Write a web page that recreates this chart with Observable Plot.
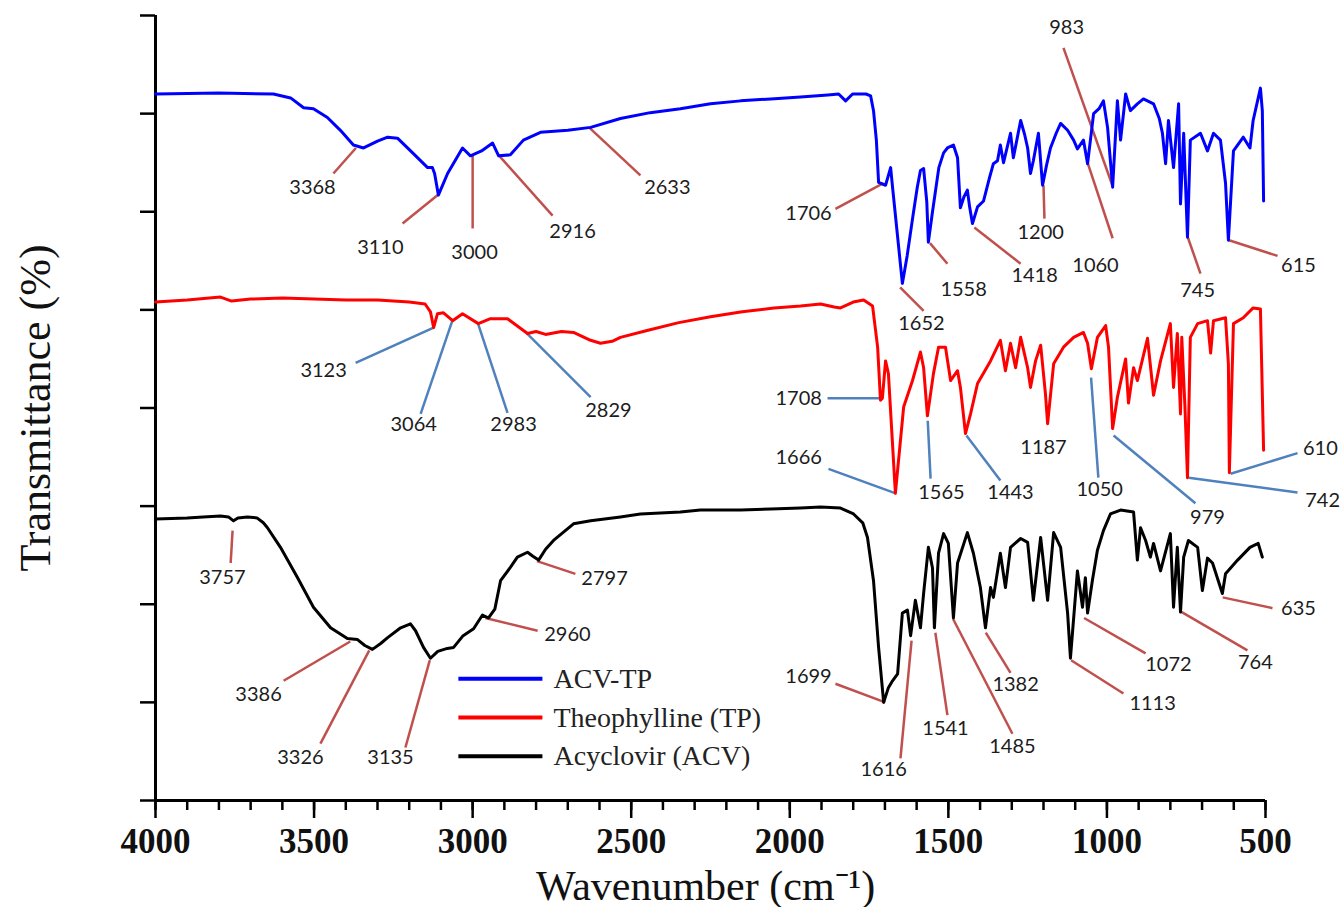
<!DOCTYPE html>
<html>
<head>
<meta charset="utf-8">
<script src="https://cdn.jsdelivr.net/npm/d3@7"></script>
<script src="https://cdn.jsdelivr.net/npm/@observablehq/plot@0.6"></script>
<style>
  html, body { margin: 0; padding: 0; background: #fff; }
  #chart svg { display: block; }
</style>
</head>
<body>
<div id="chart"></div>
<script>
// ---- Spectra: [wavenumber (cm-1), transmittance (arbitrary %, stacked)] ----
const acvtpSpectrum = [
  [4000,72.0],[3800,72.1],[3628,72.0],[3574,71.6],[3533,70.6],[3502,70.5],[3458,69.6],[3417,68.3],
  [3376,66.8],[3344,66.5],[3300,67.2],[3268,67.6],[3237,67.5],[3186,65.9],[3142,64.5],[3127,64.5],
  [3120,63.9],[3108,61.7],[3079,63.9],[3032,66.5],[3007,65.7],[2972,66.2],[2937,67.0],[2918,65.7],
  [2881,65.8],[2840,67.3],[2786,68.1],[2700,68.3],[2628,68.6],[2534,69.5],[2440,70.1],[2345,70.5],
  [2250,71.0],[2155,71.3],[2060,71.5],[1966,71.7],[1880,71.9],[1846,72.0],[1824,71.3],[1802,72.0],
  [1760,72.0],[1745,71.8],[1736,70.3],[1727,67.3],[1720,63.0],[1698,62.7],[1682,64.5],[1676,62.5],
  [1645,52.7],[1630,55.5],[1612,59.5],[1598,62.5],[1588,64.2],[1578,64.4],[1568,61.0],[1563,56.9],
  [1550,60.0],[1530,64.5],[1515,66.0],[1503,66.5],[1484,66.8],[1471,65.5],[1462,60.4],[1451,61.5],
  [1440,62.2],[1433,60.5],[1424,58.8],[1408,60.5],[1389,61.1],[1370,63.5],[1358,64.9],[1345,65.2],
  [1336,66.8],[1326,65.0],[1304,68.0],[1295,65.5],[1272,69.3],[1259,67.8],[1250,66.5],[1241,63.9],
  [1232,65.2],[1216,68.0],[1203,62.7],[1190,64.8],[1178,66.5],[1160,68.0],[1146,69.0],[1124,68.3],
  [1105,67.3],[1093,66.4],[1074,67.3],[1061,64.9],[1042,70.0],[1025,70.5],[1011,71.3],[998,68.6],
  [982,62.5],[967,71.3],[957,67.3],[941,72.0],[926,70.3],[904,71.0],[885,71.5],[853,71.0],
  [835,69.5],[825,68.0],[815,64.9],[806,69.3],[790,64.5],[774,71.0],[768,60.8],[758,68.0],
  [746,57.4],[737,67.3],[705,68.0],[683,66.2],[664,68.0],[642,67.3],[626,62.9],[617,57.1],
  [601,66.2],[570,67.6],[549,66.5],[539,69.3],[516,72.6],[510,70.3],[506,61.1]
];

const tpSpectrum = [
  [4000,50.8],[3900,51.0],[3795,51.3],[3760,50.9],[3700,51.1],[3600,51.2],[3500,51.1],[3400,51.0],
  [3300,51.0],[3200,50.8],[3150,50.6],[3133,49.8],[3123,48.2],[3111,49.6],[3092,49.7],[3063,48.9],
  [3032,49.6],[2982,48.6],[2944,49.1],[2890,49.1],[2827,47.6],[2800,47.8],[2770,47.5],[2720,47.8],
  [2682,47.7],[2628,46.9],[2597,46.6],[2560,46.8],[2534,47.2],[2450,47.9],[2350,48.7],[2250,49.3],
  [2150,49.8],[2050,50.2],[1966,50.4],[1903,50.6],[1860,50.3],[1840,50.2],[1800,50.8],[1767,51.0],
  [1739,50.4],[1723,46.2],[1714,40.8],[1708,41.0],[1698,44.8],[1689,43.5],[1667,31.3],[1641,40.1],
  [1613,42.8],[1588,45.7],[1578,44.1],[1566,39.2],[1547,43.5],[1531,46.2],[1509,46.2],[1493,42.8],
  [1471,43.8],[1462,42.1],[1446,37.4],[1430,39.4],[1408,42.5],[1367,44.8],[1336,46.9],[1320,43.8],
  [1304,46.6],[1288,44.1],[1272,47.2],[1250,44.1],[1241,42.1],[1225,44.8],[1209,46.4],[1194,41.5],
  [1187,38.4],[1168,44.5],[1137,46.2],[1105,47.2],[1074,47.7],[1061,46.6],[1049,44.0],[1030,47.2],
  [1004,48.4],[995,46.2],[982,37.9],[967,41.1],[951,43.5],[941,45.0],[932,40.5],[916,44.1],
  [904,42.8],[872,47.1],[853,41.3],[831,44.8],[800,48.6],[790,42.1],[778,47.6],[768,39.4],
  [764,47.2],[754,40.1],[746,32.9],[737,47.2],[714,48.6],[683,48.9],[673,45.6],[664,48.9],
  [626,49.2],[617,44.5],[614,33.4],[601,48.6],[570,49.2],[539,50.2],[516,50.1],[506,35.7]
];

const acvSpectrum = [
  [4000,28.7],[3900,28.8],[3850,28.9],[3795,29.0],[3770,28.9],[3754,28.5],[3740,28.8],[3710,28.9],
  [3680,28.8],[3660,28.3],[3647,27.8],[3606,25.8],[3552,22.7],[3502,19.7],[3448,17.6],[3395,16.5],
  [3363,16.4],[3340,15.8],[3316,15.4],[3290,16.0],[3268,16.6],[3227,17.6],[3196,18.0],[3180,17.3],
  [3155,15.6],[3133,14.5],[3110,15.2],[3080,15.5],[3060,15.6],[3030,16.8],[2997,17.5],[2969,18.9],
  [2950,18.6],[2930,19.5],[2912,22.4],[2880,23.8],[2859,24.8],[2827,25.3],[2810,24.9],[2792,24.5],
  [2770,25.6],[2745,26.5],[2682,28.2],[2628,28.5],[2534,28.9],[2471,29.2],[2345,29.4],[2282,29.6],
  [2155,29.6],[2060,29.7],[1966,29.8],[1903,29.9],[1840,29.8],[1799,29.2],[1770,28.3],[1755,26.8],
  [1736,22.4],[1720,15.6],[1704,10.0],[1689,11.5],[1676,12.2],[1660,12.9],[1645,19.1],[1629,19.4],
  [1619,16.8],[1604,20.4],[1588,17.6],[1578,21.1],[1563,25.8],[1550,23.7],[1544,17.6],[1531,25.2],
  [1515,27.2],[1500,26.2],[1484,18.6],[1471,24.2],[1440,27.3],[1421,25.2],[1399,21.7],[1383,17.6],
  [1367,21.7],[1358,20.7],[1336,25.2],[1320,21.7],[1304,25.8],[1272,26.7],[1250,26.3],[1232,20.4],
  [1209,26.8],[1187,20.4],[1168,27.3],[1146,25.8],[1124,19.1],[1115,14.5],[1093,23.4],[1077,19.7],
  [1068,22.7],[1061,19.1],[1046,22.4],[1030,25.5],[1011,27.5],[989,29.2],[957,29.6],[916,29.4],
  [904,24.5],[894,27.8],[878,26.5],[863,24.8],[853,26.2],[831,23.4],[800,27.2],[790,19.7],
  [778,25.8],[768,19.2],[758,24.8],[743,26.5],[714,25.8],[699,21.4],[683,24.7],[667,24.2],
  [636,21.1],[626,23.1],[588,24.5],[549,25.8],[523,26.2],[510,24.8]
];

// ---- Peak annotations: label (cm-1), curve value at peak, leader end, label position ----
const acvtpPeaks   = [3368, 3110, 3000, 2916, 2633, 1706, 1652, 1558, 1418, 1200, 1060, 983, 745, 615];
const acvtpPeakT   = [66.5, 61.7, 65.7, 65.7, 68.6, 62.9, 52.3, 56.8, 58.4, 62.7, 64.9, 62.7, 57.4, 57.1];
const acvtpLeadEnd = [[3439,63.9],[3221,58.8],[3000,58.3],[2748,59.6],[2471,63.7],[1856,60.3],[1578,49.9],
                      [1503,54.7],[1272,54.7],[1197,59.3],[982,57.3],[1137,76.7],[705,53.7],[462,55.5]];
const acvtpLabelAt = [[3505,62.5],[3291,56.3],[2994,55.8],[2685,58.0],[2386,62.5],[1941,59.8],[1585,48.6],
                      [1452,52.1],[1228,53.5],[1209,57.9],[1036,54.5],[1127,78.8],[714,52.0],[396,54.5]];

const tpPeaks   = [3123, 3064, 2983, 2829, 1708, 1666, 1565, 1443, 1187, 1050, 979, 742, 610];
const tpPeakT   = [48.2, 48.9, 48.6, 47.6, 41.0, 31.3, 38.7, 37.2, null, 43.1, 37.2, 32.9, 33.3];
const tpLeadEnd = [[3369,44.6],[3164,39.4],[2890,39.5],[2628,41.1],[1881,41.0],[1878,33.8],[1556,32.8],
                   [1336,32.6],null,[1027,32.9],[721,30.3],[399,31.4],[399,35.4]];
const tpLabelAt = [[3470,43.8],[3186,38.3],[2871,38.3],[2572,39.7],[1972,41.0],[1972,34.9],[1522,31.4],
                   [1304,31.4],[1200,36.0],[1023,31.7],[683,28.8],[320,30.6],[327,35.9]];

const acvPeaks   = [3757, 3386, 3326, 3135, 2960, 2797, 1699, 1616, 1541, 1485, 1382, 1113, 1072, 764, 635];
const acvPeakT   = [27.5, 16.2, 15.3, 14.3, 18.6, 24.4, 10.0, 16.3, 17.1, 18.5, 17.1, 14.3, 18.6, 19.2, 20.7];
const acvLeadEnd = [[3763,24.2],[3596,12.2],[3480,5.8],[3212,5.4],[2795,17.3],[2676,23.1],[1856,11.9],
                    [1651,4.3],[1503,8.7],[1298,6.8],[1304,13.0],[948,10.9],[878,15.0],[557,15.3],[478,19.6]];
const acvLabelAt = [[3789,22.7],[3675,10.8],[3543,4.4],[3259,4.4],[2701,16.9],[2584,22.6],[1941,12.6],
                    [1704,3.1],[1509,7.3],[1298,5.5],[1288,11.8],[856,9.9],[806,13.9],[532,14.1],[396,19.6]];

const seriesNames  = ["ACV-TP", "Theophylline (TP)", "Acyclovir (ACV)"];
const seriesColors = ["#0000ff", "#ff0000", "#000000"];
const majorTicks = d3.range(500, 4001, 500);
const minorTicks = d3.range(500, 4001, 100);
const yTicks = d3.range(0, 81, 10);

// ---- build tables ----
const toRows = (pairs) => pairs.map(([wn, t]) => ({wn, t}));
function toNotes(peaks, peakT, leadEnd, labelAt) {
  return peaks.map((p, i) => ({
    label: String(p), wn: p, t: peakT[i],
    x2: leadEnd[i] ? leadEnd[i][0] : null, y2: leadEnd[i] ? leadEnd[i][1] : null,
    tx: labelAt[i][0], ty: labelAt[i][1]
  }));
}
const notesBlue = toNotes(acvtpPeaks, acvtpPeakT, acvtpLeadEnd, acvtpLabelAt);
const notesRed  = toNotes(tpPeaks, tpPeakT, tpLeadEnd, tpLabelAt);
const notesBlack = toNotes(acvPeaks, acvPeakT, acvLeadEnd, acvLabelAt);

const leaderRed = "#c0504d", leaderBlue = "#4f81bd";
const labelFont = "Lato, 'Open Sans', sans-serif";
const serif = "'Liberation Serif', 'Times New Roman', serif";

function leaders(notes, color) {
  return Plot.link(notes.filter(d => d.x2 != null), {
    x1: "wn", y1: "t", x2: "x2", y2: "y2", stroke: color, strokeWidth: 2.5
  });
}
function labels(notes) {
  return Plot.text(notes, {x: "tx", y: "ty", text: "label", fontSize: 20, fontFamily: labelFont, fill: "#1c1c1c"});
}

const legendRows = seriesNames.map((name, i) => ({name, color: seriesColors[i], t: [12.4, 8.45, 4.5][i]}));

const chart = Plot.plot({
  width: 1343,
  height: 907,
  marginLeft: 155,
  marginRight: 78,
  marginTop: 15,
  marginBottom: 107,
  style: {background: "#fff", overflow: "visible"},
  x: {domain: [4000, 500]},
  y: {domain: [0, 80]},
  marks: [
    Plot.axisY({ticks: yTicks, tickSize: 15, tickFormat: () => "", label: null, strokeWidth: 2.5}),
    Plot.axisX({ticks: minorTicks, tickSize: 10, tickFormat: () => "", label: null, strokeWidth: 2.5}),
    Plot.axisX({ticks: majorTicks, tickSize: 18, tickPadding: 10, tickFormat: d => String(d), label: null,
                strokeWidth: 2.5, fontSize: 35, fontWeight: "bold", fontFamily: serif, fill: "#111"}),
    Plot.ruleY([0], {strokeWidth: 3}),
    Plot.ruleX([4000], {strokeWidth: 3}),
    Plot.text(["Transmittance (%)"], {text: d => d, frameAnchor: "left", textAnchor: "middle",
                lineAnchor: "middle", dx: -120, rotate: -90, fontSize: 44, fontFamily: serif, fill: "#111"}),
    Plot.text(["Wavenumber (cm\u207B\u00B9)"], {text: d => d, frameAnchor: "bottom", textAnchor: "middle",
                lineAnchor: "middle", dy: 86, dx: -5, fontSize: 42, fontFamily: serif, fill: "#111"}),
    leaders(notesBlue, leaderRed),
    leaders(notesRed, leaderBlue),
    leaders(notesBlack, leaderRed),
    Plot.line(toRows(acvtpSpectrum), {x: "wn", y: "t", stroke: seriesColors[0], strokeWidth: 3, strokeLinejoin: "round"}),
    Plot.line(toRows(tpSpectrum), {x: "wn", y: "t", stroke: seriesColors[1], strokeWidth: 3, strokeLinejoin: "round"}),
    Plot.line(toRows(acvSpectrum), {x: "wn", y: "t", stroke: seriesColors[2], strokeWidth: 3, strokeLinejoin: "round"}),
    labels(notesBlue),
    labels(notesRed),
    labels(notesBlack),
    // legend
    Plot.link(legendRows, {x1: 3045, x2: 2780, y1: "t", y2: "t", stroke: "color", strokeWidth: 4}),
    Plot.text(legendRows, {x: 2745, y: "t", text: "name", textAnchor: "start", fontSize: 28,
                fontFamily: serif, fill: "#222"})
  ]
});
document.getElementById("chart").appendChild(chart);
</script>
</body>
</html>
